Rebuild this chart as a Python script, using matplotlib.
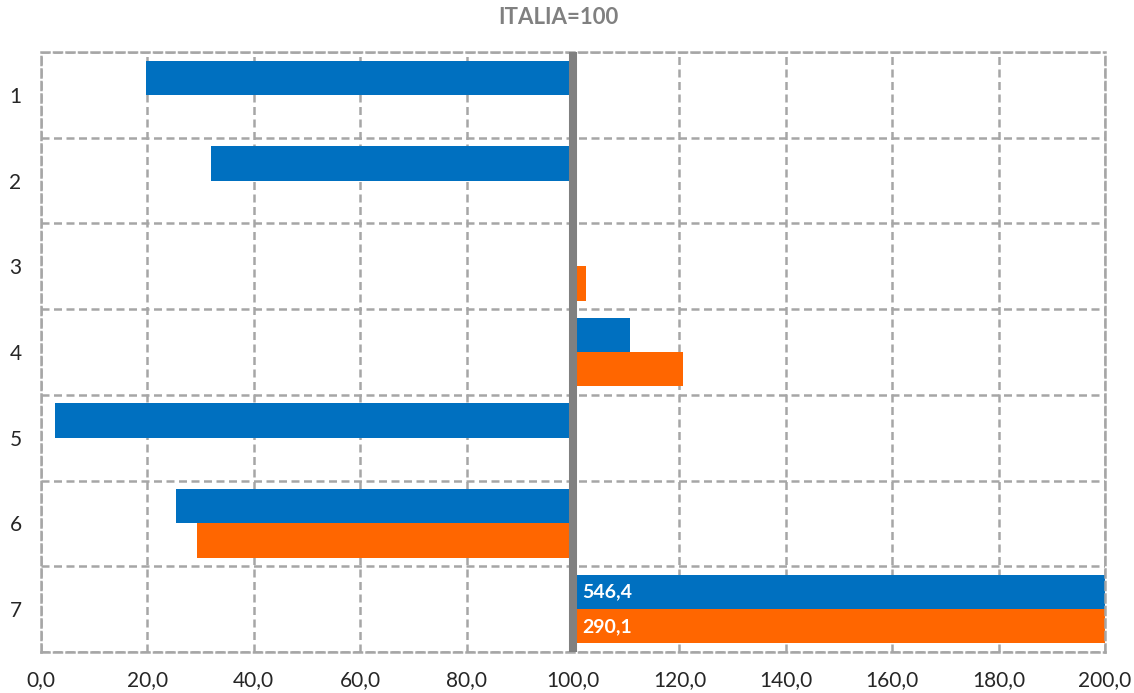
import numpy as np
import matplotlib
matplotlib.use("Agg")
import matplotlib.pyplot as plt
from matplotlib.ticker import FuncFormatter, FixedLocator

categories = ["1", "2", "3", "4", "5", "6", "7"]
blue_values = [19.7, 32.0, np.nan, 110.7, 2.6, 25.4, 546.4]
orange_values = [np.nan, np.nan, 102.4, 120.7, np.nan, 29.3, 290.1]
x_ticks = [0, 20, 40, 60, 80, 100, 120, 140, 160, 180, 200]
base = 100.0
title = "ITALIA=100"

plt.rcParams['font.family'] = ['Lato', 'DejaVu Sans']

fig = plt.figure(figsize=(11.34, 6.93), dpi=100)
ax = fig.add_axes([41/1134, 41/693, (1105-41)/1134, (652-52)/693])

y = np.arange(len(categories))
h = 0.4
blue = np.array(blue_values)
orange = np.array(orange_values)
ax.barh(y - h/2, blue - base, left=base, height=h, color="#0070C0", zorder=2)
ax.barh(y + h/2, orange - base, left=base, height=h, color="#FF6600", zorder=2)

ax.set_xlim(0, 200)
ax.set_ylim(len(categories) - 0.5, -0.5)

ax.axvline(base, color="#808080", lw=5.8, zorder=4)

# labels for clipped bars
for i in range(len(categories)):
    for val, off in ((blue[i], -h/2), (orange[i], h/2)):
        if not np.isnan(val) and val > 200:
            ax.text(base + 1.8, i + off, f"{val:.1f}".replace(".", ","),
                    color="white", fontsize=14, fontweight="bold",
                    va="center", ha="left", zorder=5)

ax.set_xticks(x_ticks)
ax.xaxis.set_major_formatter(FuncFormatter(lambda v, p: f"{v:.1f}".replace(".", ",")))
ax.set_yticks(y)
ax.set_yticklabels(categories)
ax.yaxis.set_minor_locator(FixedLocator(np.arange(-0.5, len(categories), 1.0)))
ax.tick_params(axis="both", which="both", length=0, labelsize=15, colors="#262626")
ax.tick_params(axis="x", pad=13)
ax.tick_params(axis="y", pad=14)

grid_kw = dict(color="#A6A6A6", lw=1.8, linestyle=(0, (3.2, 1.8)))
ax.grid(axis="x", which="major", zorder=0, **grid_kw)
ax.grid(axis="y", which="minor", zorder=0, **grid_kw)
ax.set_axisbelow(True)
for s in ax.spines.values():
    s.set_color("#A6A6A6")
    s.set_linewidth(1.8)
    s.set_linestyle((0, (3.2, 1.8)))

fig.text(558/1134, 1 - 18/693, title, ha="center", va="center",
         fontsize=16, fontweight="bold", color="#808080")

fig.savefig("out.png", dpi=100)
